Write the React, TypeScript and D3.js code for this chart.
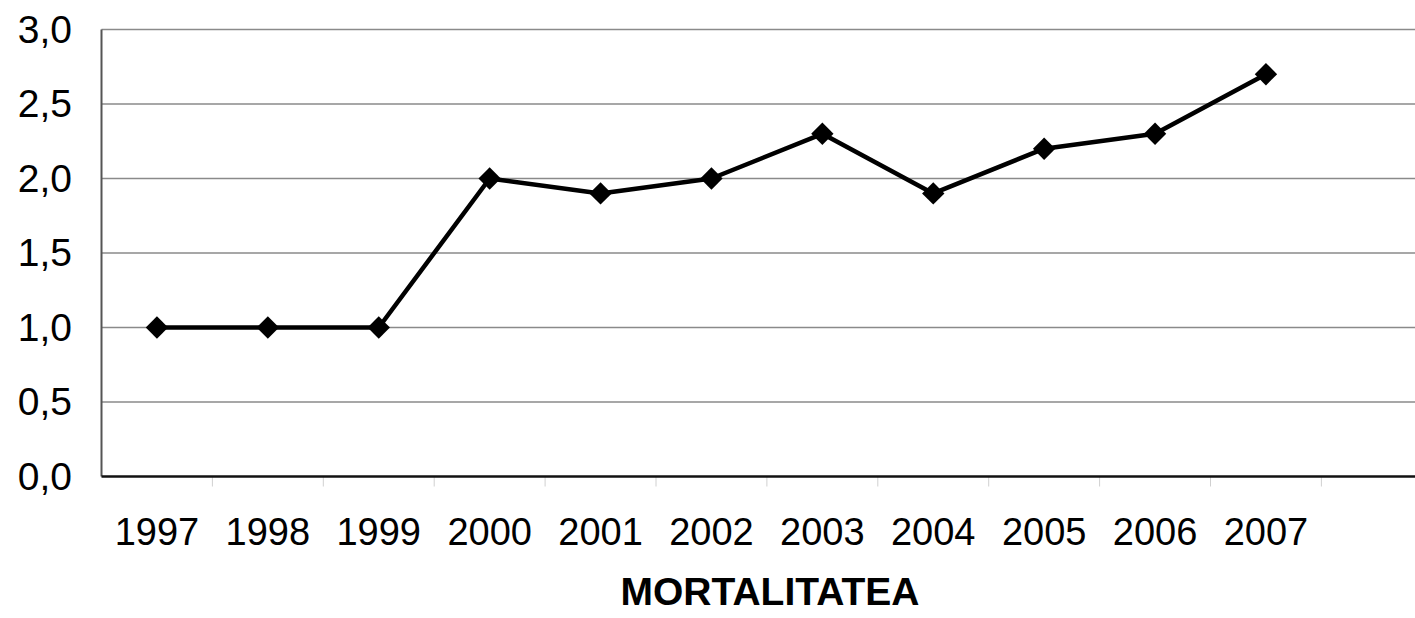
import React from "react";
import * as d3 from "d3";

const years = ["1997", "1998", "1999", "2000", "2001", "2002", "2003", "2004", "2005", "2006", "2007"];
const values = [1.0, 1.0, 1.0, 2.0, 1.9, 2.0, 2.3, 1.9, 2.2, 2.3, 2.7];
const yTicks = [0, 0.5, 1.0, 1.5, 2.0, 2.5, 3.0];
const title = "MORTALITATEA";

const W = 1415;
const H = 618;
const left = 101.5;
const step = 110.9;
const nSlots = 12;
const top = 29.5;
const bottom = 476.5;

export default function App() {
  const x = d3
    .scaleBand<string>()
    .domain([...years, ""])
    .range([left, left + step * nSlots])
    .padding(0);
  const y = d3.scaleLinear().domain([0, 3]).range([bottom, top]);
  const cx = (yr: string) => (x(yr) as number) + x.bandwidth() / 2;
  const line = d3
    .line<number>()
    .x((_, i) => cx(years[i]))
    .y((v) => y(v));
  const diamond = d3.symbol().type(d3.symbolSquare).size(250)() as string;
  const fmt = (v: number) => v.toFixed(1).replace(".", ",");
  const boundaries = d3.range(1, nSlots).map((i) => left + i * step);

  return (
    <svg
      width={W}
      height={H}
      style={{ position: "absolute", left: 0, top: 0, background: "#fff" }}
      fontFamily="'Liberation Sans', Arial, sans-serif"
    >
      {yTicks.map((t) =>
        t === 0 ? null : (
          <line key={"g" + t} x1={left} x2={W} y1={y(t)} y2={y(t)} stroke="#8a8a8a" strokeWidth={1.5} />
        )
      )}
      <line x1={left} x2={left} y1={top} y2={bottom} stroke="#555" strokeWidth={2} />
      {boundaries.map((b, i) => (
        <line key={"t" + i} x1={b} x2={b} y1={bottom} y2={bottom + 10} stroke="#d0d0d0" strokeWidth={1} />
      ))}
      <line x1={left} x2={W} y1={bottom} y2={bottom} stroke="#111" strokeWidth={2.5} />
      {yTicks.map((t) => (
        <text key={"l" + t} x={72} y={y(t) + 13} textAnchor="end" fontSize={39} fill="#000">
          {fmt(t)}
        </text>
      ))}
      <path d={line(values) as string} fill="none" stroke="#000" strokeWidth={4.5} strokeLinejoin="round" />
      {values.map((v, i) => (
        <path key={"m" + i} d={diamond} transform={`translate(${cx(years[i])},${y(v)}) rotate(45)`} fill="#000" />
      ))}
      {years.map((yr) => (
        <text key={"x" + yr} x={cx(yr)} y={545} textAnchor="middle" fontSize={38} fill="#000">
          {yr}
        </text>
      ))}
      <text x={770} y={605} textAnchor="middle" fontSize={39} fontWeight="bold" fill="#000">
        {title}
      </text>
    </svg>
  );
}
